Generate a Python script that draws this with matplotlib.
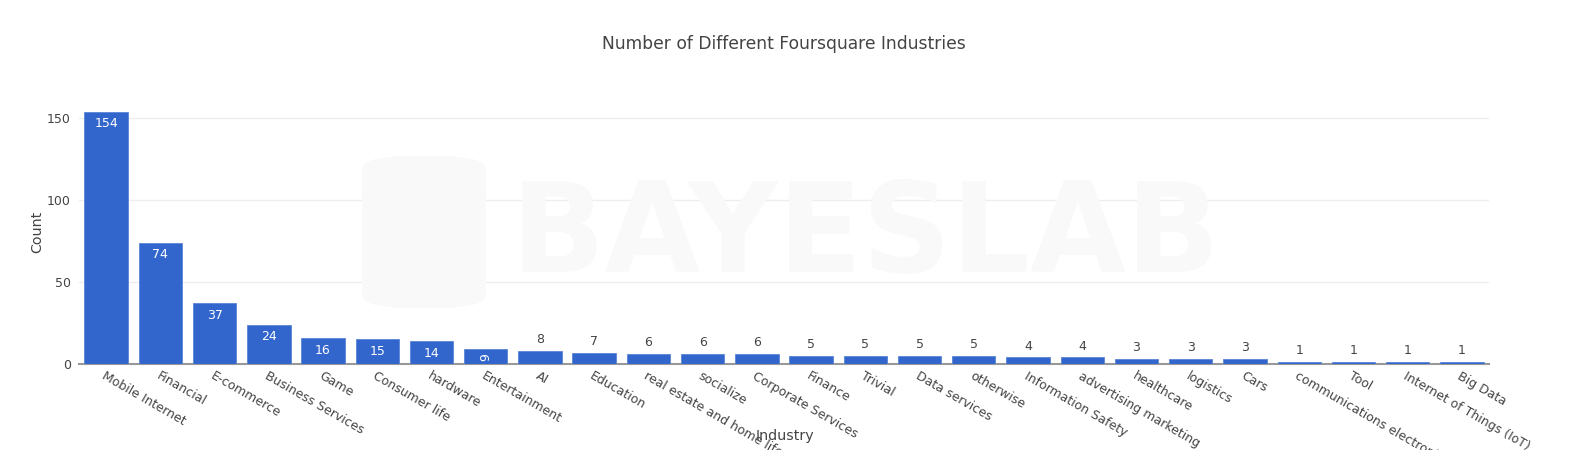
import numpy as np
import matplotlib.pyplot as plt
from matplotlib.patches import FancyBboxPatch

plt.rcParams['font.family'] = ['DejaVu Sans']

# Datos del gráfico
industries = ['Mobile Internet', 'Financial', 'E-commerce', 'Business Services', 'Game',
              'Consumer life', 'hardware', 'Entertainment', 'AI', 'Education',
              'real estate and home life', 'socialize', 'Corporate Services', 'Finance',
              'Trivial', 'Data services', 'otherwise', 'Information Safety',
              'advertising marketing', 'healthcare', 'logistics', 'Cars',
              'communications electronics', 'Tool', 'Internet of Things (IoT)', 'Big Data']
counts = [154, 74, 37, 24, 16, 15, 14, 9, 8, 7, 6, 6, 6, 5, 5, 5, 5, 4, 4, 3, 3, 3, 1, 1, 1, 1]

text_color = '#444444'
bar_color = '#3366cc'
wm_color = '#f8f9f8'

fig = plt.figure(figsize=(15.89, 4.5), dpi=100)

# Marca de agua (muy tenue)
fig.text(866 / 1589, 1 - 238 / 450, 'BAYESLAB', fontsize=89, fontweight='bold', color=wm_color,
         ha='center', va='center', zorder=0)
fig.patches.append(FancyBboxPatch((362 / 1589, 1 - 308 / 450), 124 / 1589, 152 / 450,
                                  boxstyle='round,pad=0,rounding_size=0.03',
                                  transform=fig.transFigure, facecolor=wm_color,
                                  edgecolor='none', zorder=0))

ax = fig.add_axes([79 / 1589, 1 - 364 / 450, 1410 / 1589, 265 / 450])
ax.patch.set_alpha(0)

x = np.arange(len(industries))
ax.bar(x, counts, width=0.8, color=bar_color, edgecolor='#5b85d6', linewidth=0.6, zorder=3)

ax.set_xlim(-0.5, len(industries) - 0.5)
ax.set_ylim(0, max(counts) * 1.05)
ax.set_yticks([0, 50, 100, 150])
ax.grid(axis='y', color='#eeeeee', linewidth=1, zorder=0)
ax.set_axisbelow(True)

for s in ['top', 'right', 'left']:
    ax.spines[s].set_visible(False)
ax.spines['bottom'].set_color('#999999')
ax.spines['bottom'].set_linewidth(1.5)
ax.spines['bottom'].set_zorder(2.5)

ax.tick_params(axis='y', length=0, labelsize=9, labelcolor=text_color, pad=6)
ax.tick_params(axis='x', length=0, labelsize=9, labelcolor=text_color, pad=4)
ax.set_xticks(x)
ax.set_xticklabels(industries, rotation=-30, ha='left', rotation_mode='anchor')

# Etiquetas de valor
for xi, v in zip(x, counts):
    if v >= 14:
        ax.text(xi, v - 3.5, str(v), ha='center', va='top', color='white', fontsize=9, zorder=5)
    elif v == 9:
        ax.text(xi, v / 2, str(v), ha='center', va='center', color='white', fontsize=9,
                rotation=90, zorder=5)
    else:
        ax.text(xi, v + 3, str(v), ha='center', va='bottom', color=text_color, fontsize=9, zorder=5)

fig.text(784 / 1589, 1 - 44 / 450, 'Number of Different Foursquare Industries',
         ha='center', va='center', fontsize=12.3, color=text_color)
fig.text(785 / 1589, 1 - 436 / 450, 'Industry', ha='center', va='center', fontsize=10.3, color=text_color)
fig.text(37 / 1589, 1 - 232 / 450, 'Count', ha='center', va='center', fontsize=10.3,
         color=text_color, rotation=90)

fig.savefig('out.png', dpi=100)
